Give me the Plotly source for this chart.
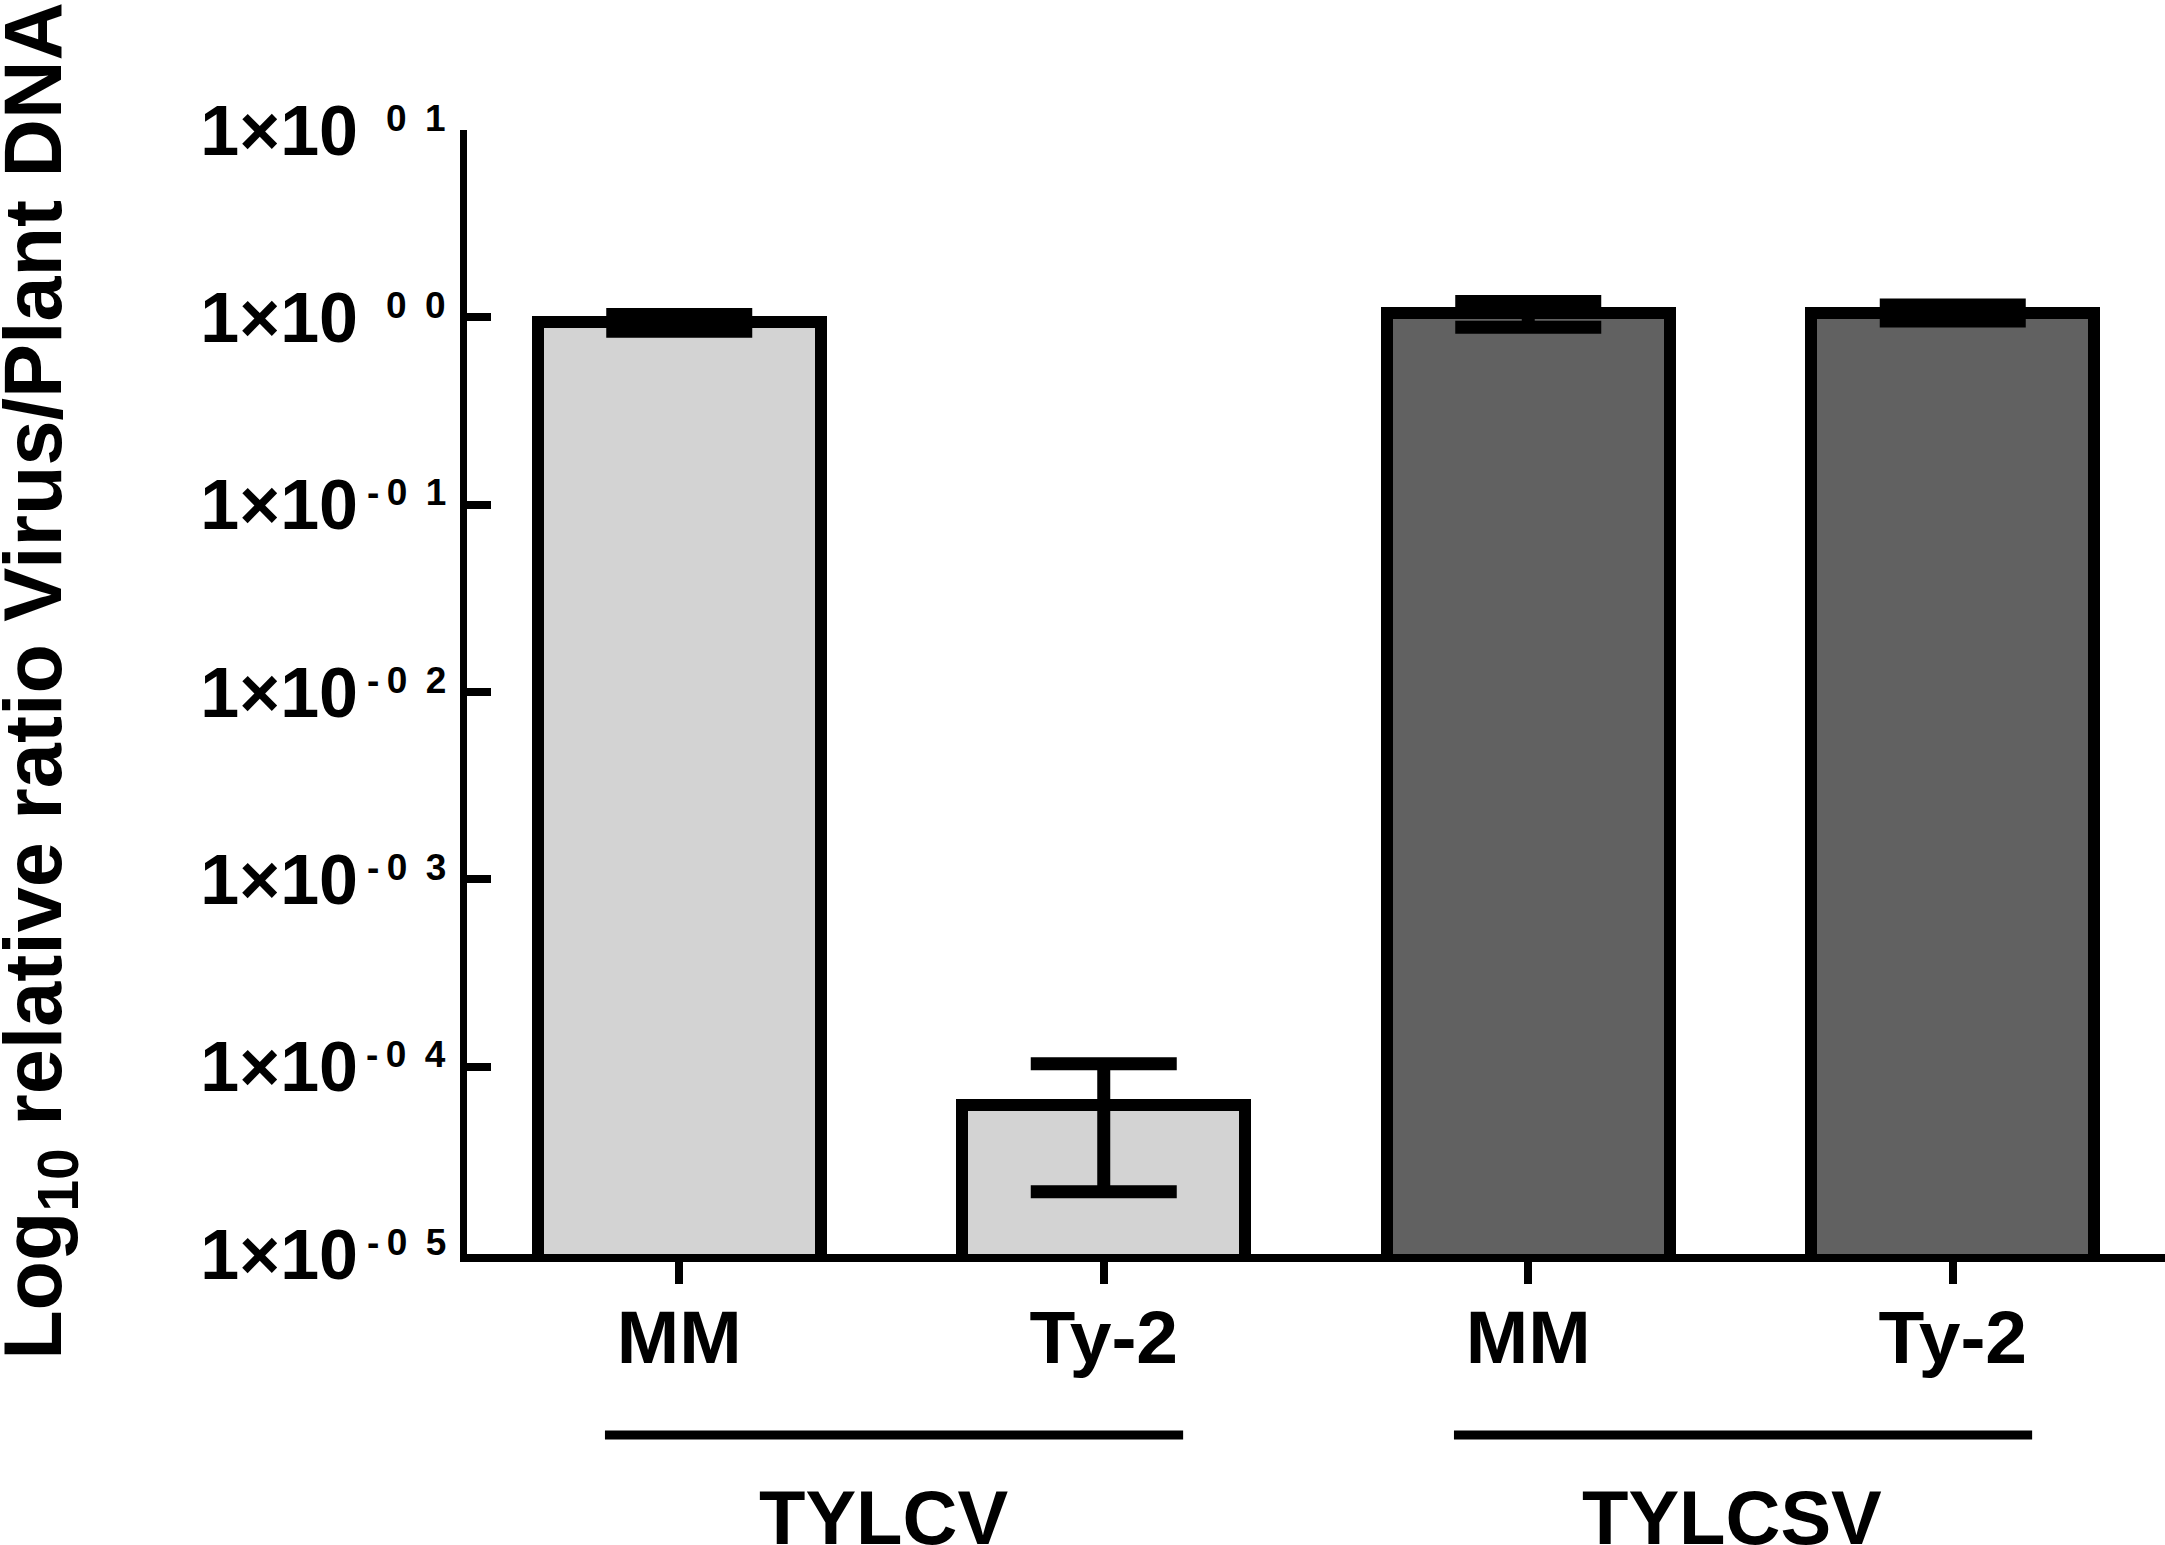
import math
import plotly.graph_objects as go

# data (mean +/- error, linear units)
samples = ['MM', 'Ty-2', 'MM', 'Ty-2']
groups = ['TYLCV', 'TYLCSV']
group_of = [0, 0, 1, 1]
ratio = [0.94, 6.25e-05, 1.05, 1.06]
ratio_err = [0.097, 4.1e-05, 0.165, 0.105]
bar_colors = ['#d3d3d3', '#d3d3d3', '#616161', '#616161']

tick_vals = [1e1, 1e0, 1e-1, 1e-2, 1e-3, 1e-4, 1e-5]
tick_base = ['1×10'] * len(tick_vals)
tick_exp = ['0\u20021', '0\u20020', '-\u20090\u20021', '-\u20090\u20022',
            '-\u20090\u20023', '-\u20090\u20024', '-\u20090\u20025']

FONT = 'Liberation Sans, Arial, Helvetica, sans-serif'
x = list(range(len(samples)))

fig = go.Figure()
fig.add_trace(go.Bar(
    x=x, y=ratio, width=0.667,
    marker=dict(color=bar_colors, line=dict(color='black', width=12)),
    error_y=dict(type='data', array=ratio_err, visible=True,
                 color='black', thickness=13, width=73),
    showlegend=False,
))

# exponents of the y tick labels (annotation y on a log axis is log10)
for v, e in zip(tick_vals, tick_exp):
    fig.add_annotation(xref='paper', yref='y', x=-0.011, y=math.log10(v), text=e,
                       showarrow=False, xanchor='right', yanchor='middle', yshift=12,
                       font=dict(family=FONT, size=37, color='black', weight='bold'))

# group underlines + labels
for gi, g in enumerate(groups):
    idx = [i for i, k in enumerate(group_of) if k == gi]
    x0, x1 = min(idx) - 0.175, max(idx) + 0.187
    fig.add_shape(type='line', xref='x', yref='paper', x0=x0, x1=x1, y0=-0.161, y1=-0.161,
                  line=dict(color='black', width=9))
    fig.add_annotation(xref='x', yref='paper', x=(min(idx) + max(idx)) / 2 - 0.02, y=-0.234,
                       text=g, showarrow=False, yanchor='middle',
                       font=dict(family=FONT, size=76, color='black', weight='bold'))

fig.add_annotation(xref='paper', yref='paper', x=-0.252, y=0.51,
                   text='Log<sub>10</sub> relative ratio Virus/Plant DNA',
                   textangle=-90, showarrow=False, xanchor='center', yanchor='middle',
                   font=dict(family=FONT, size=81, color='black', weight='bold'))

fig.update_layout(
    width=2165, height=1545,
    margin=dict(l=467, r=0, t=130, b=291),
    plot_bgcolor='white', paper_bgcolor='white',
    font=dict(family=FONT, color='black'),
    bargap=0,
)
fig.update_xaxes(
    range=[-0.5, 3.5], tickvals=x, ticktext=samples,
    showline=True, linecolor='black', linewidth=8,
    ticks='outside', ticklen=22, tickwidth=8, tickcolor='black',
    tickfont=dict(family=FONT, size=75, color='black', weight='bold'),
    ticklabelstandoff=-11, showgrid=False, zeroline=False,
)
fig.update_yaxes(
    type='log', range=[-5, 1], tickvals=tick_vals, ticktext=tick_base,
    showline=True, linecolor='black', linewidth=7,
    ticks='inside', ticklen=24, tickwidth=8, tickcolor='black',
    tickfont=dict(family=FONT, size=70, color='black', weight='bold'),
    ticklabelstandoff=88, showgrid=False, zeroline=False,
)

fig.write_html('out.html', config={'displayModeBar': False},
               post_script="document.body.style.margin='0';")
